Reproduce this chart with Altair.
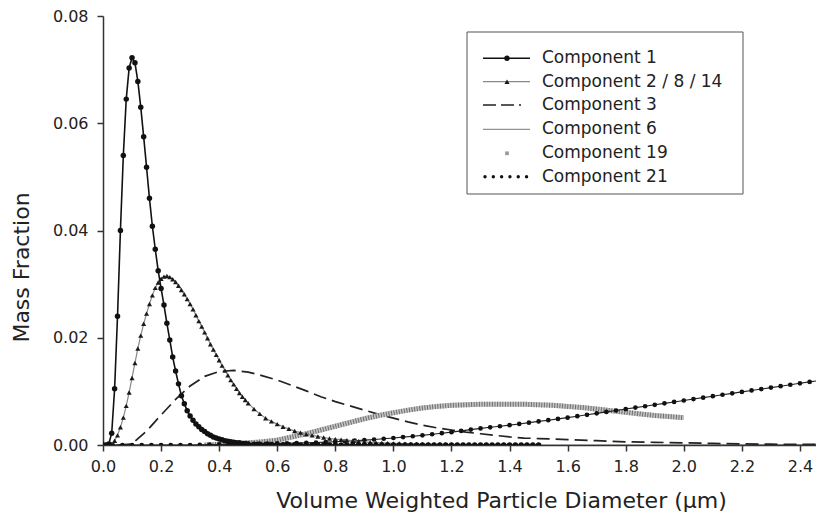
import altair as alt
import pandas as pd

# ---------------- data ----------------
# Component 1 (0.00..0.50 every 0.01, then every 0.02 up to 1.50)
c1_y = [0, 0, 0.0002, 0.0022, 0.0105, 0.0240, 0.0400, 0.0540, 0.0645, 0.0703,
        0.0722, 0.0713, 0.0678, 0.0630, 0.0575, 0.0518, 0.0460, 0.0408, 0.0365, 0.0325,
        0.0292, 0.0261, 0.0227, 0.0196, 0.0164, 0.0138, 0.0114, 0.0092, 0.0077, 0.0064,
        0.0054, 0.0046, 0.0039, 0.0034, 0.0029, 0.0025, 0.0021, 0.0018, 0.0015, 0.0013,
        0.0011, 0.0010, 0.0008, 0.0007, 0.0006, 0.0005, 0.0004, 0.0004, 0.0003, 0.0003,
        0.0002,
        0.00015, 0.00012, 0.0001, 0.00008, 0.00006, 0.00005, 0.00004, 0.00003, 0.00002, 0.00002,
        0.00001, 0.00001, 0.00001, 0.0, 0.0, 0.0, 0.0, 0.0, 0.0, 0.0,
        0.0, 0.0, 0.0, 0.0, 0.0, 0.0, 0.0, 0.0, 0.0, 0.0,
        0.0, 0.0, 0.0, 0.0, 0.0, 0.0, 0.0, 0.0, 0.0, 0.0,
        0.0, 0.0, 0.0, 0.0, 0.0, 0.0, 0.0, 0.0, 0.0, 0.0]

# Component 2 / 8 / 14 (same sampling as component 1)
c2_y = [0, 0, 0, 0.0002, 0.0008, 0.0018, 0.0033, 0.0051, 0.0073, 0.0098,
        0.0125, 0.0153, 0.0180, 0.0204, 0.0226, 0.0245, 0.0263, 0.0279, 0.0293, 0.0303,
        0.0310, 0.0314, 0.0315, 0.0313, 0.0309, 0.0304, 0.0297, 0.0289, 0.0281, 0.0272,
        0.0263, 0.0253, 0.0242, 0.0231, 0.0221, 0.0210, 0.0199, 0.0188, 0.0178, 0.0168,
        0.0158, 0.0148, 0.0139, 0.0130, 0.0121, 0.0113, 0.0105, 0.0097, 0.0090, 0.0084,
        0.0078,
        0.0067, 0.0058, 0.0050, 0.0044, 0.0039, 0.0034, 0.0030, 0.0026, 0.0023, 0.0020,
        0.0018, 0.0016, 0.0014, 0.0012, 0.0011, 0.0010, 0.0009, 0.0008, 0.0007, 0.0006,
        0.0005, 0.00045, 0.0004, 0.00035, 0.0003, 0.00027, 0.00024, 0.0002, 0.00018, 0.00016,
        0.00014, 0.00012, 0.0001, 0.00009, 0.00008, 0.00007, 0.00006, 0.00005, 0.00005, 0.00004,
        0.00004, 0.00003, 0.00003, 0.00002, 0.00002, 0.00002, 0.00001, 0.00001, 0.00001, 0.00001]

# Component 3 (dashed)
c3_x = [0.05, 0.10, 0.15, 0.20, 0.25, 0.30, 0.35, 0.40, 0.45, 0.50,
        0.55, 0.60, 0.65, 0.70, 0.75, 0.80, 0.85, 0.90, 0.95, 1.00,
        1.05, 1.10, 1.15, 1.20, 1.25, 1.30, 1.35, 1.40, 1.45, 1.50,
        1.60, 1.70, 1.80, 1.90, 2.00, 2.10, 2.20, 2.30, 2.40, 2.50]
c3_y = [0.0, 0.0002, 0.0026, 0.0056, 0.0085, 0.0110, 0.0128, 0.0137, 0.0139, 0.0136,
        0.0129, 0.0121, 0.0111, 0.0101, 0.0090, 0.0081, 0.0073, 0.0065, 0.0057, 0.0050,
        0.0043, 0.0037, 0.0032, 0.0028, 0.0024, 0.0021, 0.0018, 0.0015, 0.0013, 0.0012,
        0.0010, 0.0008, 0.0006, 0.0005, 0.0004, 0.0003, 0.0002, 0.00015, 0.0001, 0.0001]

# Component 6 (thin line, practically zero in this range)
c6_x = [0.0, 0.5, 1.0, 1.5, 2.0, 2.2, 2.5]
c6_y = [0.0, 0.0, 0.0, 0.0, 0.00003, 0.00006, 0.00012]

# Component 19 (grey squares)
c19_x = [0.35, 0.40, 0.45, 0.50, 0.55, 0.60, 0.65, 0.70, 0.75, 0.80,
         0.85, 0.90, 0.95, 1.00, 1.05, 1.10, 1.15, 1.20, 1.25, 1.30,
         1.35, 1.40, 1.45, 1.50, 1.55, 1.60, 1.65, 1.70, 1.75, 1.80,
         1.85, 1.90, 1.95, 2.00]
c19_y = [0.0, 0.0001, 0.0002, 0.0004, 0.0006, 0.0009, 0.0015, 0.0021, 0.0028, 0.0035,
         0.0042, 0.0049, 0.0055, 0.0060, 0.0065, 0.0069, 0.0072, 0.0074, 0.0075, 0.0076,
         0.0076, 0.0076, 0.0076, 0.0075, 0.0074, 0.0072, 0.0070, 0.0067, 0.0064, 0.0061,
         0.0058, 0.0055, 0.0053, 0.0051]

# Component 21 (line with dots, one dot every 1/30 um)
c21_y = [0, 0, 0, 0, 0, 0, 0, 0, 0, 0,
         0.00005, 0.00008, 0.0001, 0.00012, 0.00015, 0.0002, 0.00022, 0.00025, 0.0003, 0.00033,
         0.00036, 0.0004, 0.00047, 0.00053, 0.0006, 0.0007, 0.0008, 0.0009, 0.00103, 0.00117,
         0.0013, 0.00147, 0.00163, 0.0018, 0.0020, 0.0022, 0.0024, 0.00263, 0.00287, 0.0031,
         0.0033, 0.0035, 0.0037, 0.00393, 0.00417, 0.0044, 0.00463, 0.00487, 0.0051, 0.00537,
         0.00563, 0.0059, 0.00617, 0.00643, 0.0067, 0.00697, 0.00723, 0.0075, 0.00777, 0.00803,
         0.0083, 0.00857, 0.00883, 0.0091, 0.00937, 0.00963, 0.0099, 0.01017, 0.01043, 0.0107,
         0.01097, 0.01123, 0.0115, 0.01177, 0.01203, 0.0123]

legend_labels = ["Component 1", "Component 2 / 8 / 14", "Component 3",
                 "Component 6", "Component 19", "Component 21"]
x_ticks = [0.0, 0.2, 0.4, 0.6, 0.8, 1.0, 1.2, 1.4, 1.6, 1.8, 2.0, 2.2, 2.4]
y_ticks = [0.0, 0.02, 0.04, 0.06, 0.08]

# ---------------- build tables ----------------
def grid_x(ys):
    return [round(i * 0.01, 2) for i in range(51)] + \
           [round(0.50 + 0.02 * i, 2) for i in range(1, len(ys) - 50)]

c1 = pd.DataFrame({"x": grid_x(c1_y), "y": c1_y})
c2 = pd.DataFrame({"x": grid_x(c2_y), "y": c2_y})
c3 = pd.DataFrame({"x": c3_x, "y": c3_y})
c6 = pd.DataFrame({"x": c6_x, "y": c6_y})
c19 = pd.DataFrame({"x": c19_x, "y": c19_y})
c21 = pd.DataFrame({"x": [round(i / 30, 4) for i in range(len(c21_y))], "y": c21_y})

W, H = 713, 429
X_MAX = W / 290.4
FONT = "DejaVu Sans"
TXT = "#222222"

xscale = alt.Scale(domain=[0, X_MAX], nice=False, zero=False)
yscale = alt.Scale(domain=[0, 0.08], nice=False)
xaxis = alt.Axis(values=x_ticks, format=".1f", title="Volume Weighted Particle Diameter (μm)",
                 grid=False, tickSize=6, labelPadding=7, labelFlush=False, labelOverlap=False,
                 titleX=398, titleY=55, titleBaseline="middle")
yaxis = alt.Axis(values=y_ticks, format=".2f", title="Mass Fraction", grid=False,
                 tickSize=6, labelPadding=9, labelFlush=False,
                 titleX=-82, titleY=251, titleBaseline="middle")
X = alt.X("x:Q", scale=xscale, axis=xaxis)
Y = alt.Y("y:Q", scale=yscale, axis=yaxis)

def line(df, **kw):
    return alt.Chart(df).mark_line(clip=True, **kw).encode(x=X, y=Y)

def pts(df, **kw):
    return alt.Chart(df).mark_point(clip=True, filled=True, **kw).encode(x=X, y=Y)

layers = [
    line(c6, color="#777777", strokeWidth=1),
    line(c3, color="#222222", strokeWidth=1.7, strokeDash=[13, 6]),
    line(c19, color="#c4c4c4", strokeWidth=5),
    line(c19, color="#6e6e6e", strokeWidth=5, strokeDash=[1, 1.6]),
    line(c21, color="#222222", strokeWidth=1.1),
    pts(c21, color="#111111", size=22, shape="circle", opacity=1),
    line(c2, color="#888888", strokeWidth=1.2),
    pts(c2, color="#1a1a1a", size=26, shape="triangle-up", opacity=1),
    line(c1, color="#111111", strokeWidth=1.6),
    pts(c1, color="#111111", size=30, shape="circle", opacity=1),
]

# ---------------- legend (drawn inside the plot) ----------------
one = pd.DataFrame({"a": [0]})
rows = [42.3, 65.7, 89.0, 113.3, 137.3, 160.7]
LX1, LX2, LXM, LXT = 380, 427, 404, 439

layers.append(alt.Chart(one).mark_rect(fill="white", stroke="#555555", strokeWidth=1).encode(
    x=alt.value(364), x2=alt.value(640), y=alt.value(16), y2=alt.value(178)))

def lrule(yv, **kw):
    return alt.Chart(one).mark_rule(**kw).encode(x=alt.value(LX1), x2=alt.value(LX2), y=alt.value(yv))

def lpt(yv, **kw):
    return alt.Chart(one).mark_point(filled=True, opacity=1, **kw).encode(x=alt.value(LXM), y=alt.value(yv))

layers += [
    lrule(rows[0], color="#111111", strokeWidth=1.6),
    lpt(rows[0], color="#111111", size=30, shape="circle"),
    lrule(rows[1], color="#888888", strokeWidth=1.2),
    lpt(rows[1], color="#1a1a1a", size=26, shape="triangle-up"),
    alt.Chart(one).mark_rule(color="#222222", strokeWidth=1.7, strokeDash=[13, 5]).encode(
        x=alt.value(LX1), x2=alt.value(LX1 + 38), y=alt.value(rows[2])),
    lrule(rows[3], color="#777777", strokeWidth=1),
    lpt(rows[4], color="#9a9a9a", size=14, shape="square"),
    alt.Chart(one).mark_rule(color="#111111", strokeWidth=3.4, strokeDash=[0.01, 8.3],
                             strokeCap="round").encode(
        x=alt.value(LX1 + 2), x2=alt.value(LX2), y=alt.value(rows[5])),
]
for lab, yv in zip(legend_labels, rows):
    layers.append(alt.Chart(one).mark_text(text=lab, align="left", baseline="middle",
                                           font=FONT, fontSize=17, color=TXT).encode(
        x=alt.value(LXT), y=alt.value(yv)))

chart = alt.layer(*layers).properties(
    width=W, height=H,
    autosize=alt.AutoSizeParams(type="none"),
    padding={"left": 95, "top": 8, "right": 0, "bottom": 68},
    background="white",
).configure_view(stroke=None).configure_axis(
    domainColor="#333333", domainWidth=1.5, tickColor="#333333", tickWidth=1.5,
    labelFont=FONT, labelFontSize=16, labelColor=TXT,
    titleFont=FONT, titleFontSize=22, titleFontWeight="normal", titleColor=TXT,
)

chart.save("out.html", embed_options={"renderer": "svg", "actions": False})
